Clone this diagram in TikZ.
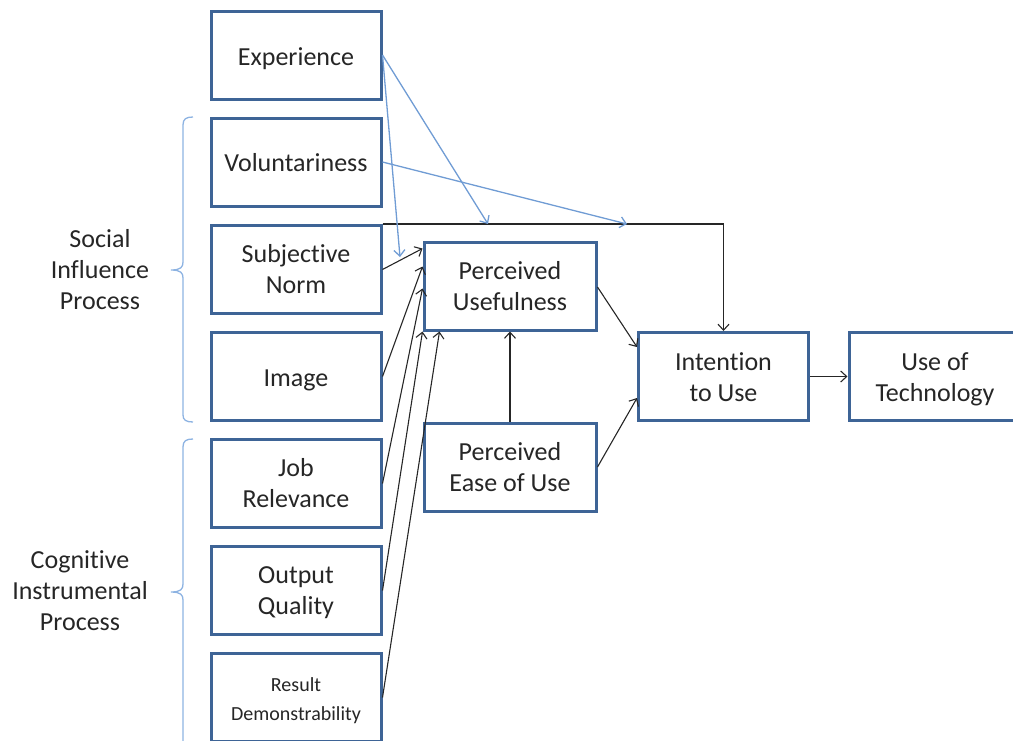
\documentclass[tikz,border=0pt]{standalone}
\usepackage{fontspec}
\setmainfont[Ligatures={NoCommon}]{Carlito}
\usetikzlibrary{arrows.meta,calc}
\definecolor{boxline}{RGB}{62,100,150}
\definecolor{modblue}{RGB}{112,156,212}
\definecolor{bracecol}{RGB}{141,179,226}
\definecolor{inkgray}{RGB}{38,38,38}
% centred block text, one row per line, nudged down without changing its box
\newcommand{\blocktext}[2][-3pt]{\raisebox{#1}[\height][\depth]{\begin{tabular}{@{}c@{}}#2\end{tabular}}}
\tikzset{
  block/.style={draw=boxline, line width=3pt, fill=white, minimum width=170pt,
    minimum height=88pt, inner sep=0pt, text=inkgray,
    font=\fontsize{26}{31}\selectfont},
  link/.style={draw=inkgray, line width=1.1pt, -{Straight Barb[length=6pt,width=11pt,line width=1.1pt]}},
  modlink/.style={draw=modblue, line width=1.3pt, -{Straight Barb[length=6pt,width=11pt,line width=1.3pt]}},
  bracepath/.style={draw=bracecol, line width=1.3pt},
  grouplabel/.style={align=center, text=inkgray, font=\fontsize{26}{31}\selectfont}
}
\begin{document}
\begin{tikzpicture}[x=1pt,y=-1pt]
\useasboundingbox (0,0) rectangle (1013,740);
\clip (0,0) rectangle (1013,740);

% determinants of perceived usefulness
\node[block] (exp) at (296,55)    {\blocktext[-4pt]{Experience}};
\node[block] (vol) at (296,162)   {\blocktext[-3.5pt]{Voluntariness}};
\node[block] (sn)  at (296,269.5) {\blocktext[-2.5pt]{Subjective\\Norm}};
\node[block] (img) at (296,376.5) {\blocktext[-4pt]{Image}};
\node[block] (job) at (296,483.5) {\blocktext[-2.5pt]{Job\\Relevance}};
\node[block] (out) at (296,590.5) {\blocktext[-2.5pt]{Output\\Quality}};
\node[block, font=\fontsize{20}{29}\selectfont] (res) at (296,697.5) {\blocktext[-2.5pt]{Result\\Demonstrability}};

% core model
\node[block, minimum width=172pt] (pu)   at (510,286)   {\blocktext{Perceived\\Usefulness}};
\node[block, minimum width=172pt] (peou) at (510,467)   {\blocktext{Perceived\\Ease of Use}};
\node[block] (int) at (723.5,376.5) {\blocktext{Intention\\to Use}};
\node[block, minimum width=172pt] (use) at (935,376.5) {\blocktext{Use of\\Technology}};

% group labels
\node[grouplabel] (soc) at (100,270) {Social\\Influence\\Process};
\node[grouplabel] (cog) at (80,591)  {Cognitive\\Instrumental\\Process};

% braces
\draw[bracepath] (193,117) .. controls (186,117) and (183,119) .. (183,125)
  -- (183,262) .. controls (183,267) and (181,270) .. (171,270)
  .. controls (181,270) and (183,273) .. (183,278)
  -- (183,415) .. controls (183,420) and (186,422) .. (193,422);
\draw[bracepath] (193,439) .. controls (186,439) and (183,441) .. (183,447)
  -- (183,584) .. controls (183,589) and (181,592) .. (171,592)
  .. controls (181,592) and (183,595) .. (183,600)
  -- (183,745);

% subjective norm -> intention (over the top)
\coordinate (snCorner) at (sn.north east);
\draw[link] (snCorner) -- (snCorner -| int.north) -- (int.north);

% paths into perceived usefulness
\draw[link] (sn.east)  -- ($(pu.north west)+(0,8)$);
\draw[link] (img.east) -- ($(pu.north west)+(0,26)$);
\draw[link] (job.east) -- ($(pu.north west)+(0,48)$);
\draw[link] (out.east) -- ($(pu.south west)+(0,0)$);
\draw[link] (res.east) -- ($(pu.south west)+(17,0)$);
\draw[link] (peou.north) -- (pu.south);

% paths into intention and use
\draw[link] ($(pu.east)+(0,1)$) -- ($(int.west)+(0,-29.5)$);
\draw[link] (peou.east) -- ($(int.west)+(0,21.5)$);
\draw[link] (int.east) -- (use.west);

% moderating effects
\coordinate (modSN) at (400,257);
\coordinate (modSNPU) at (488,224);
\coordinate (modSNInt) at (627,224);
\draw[modlink] (exp.east) -- (modSN);
\draw[modlink] (exp.east) -- (modSNPU);
\draw[modlink] (vol.east) -- (modSNInt);
\end{tikzpicture}
\end{document}
